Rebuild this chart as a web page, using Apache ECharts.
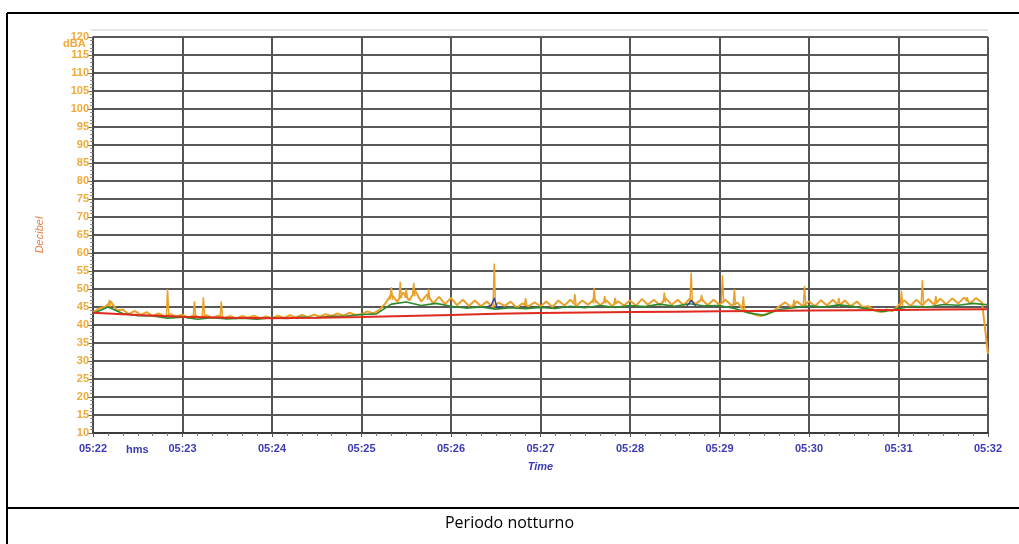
<!DOCTYPE html>
<html><head><meta charset="utf-8">
<script src="https://cdn.jsdelivr.net/npm/echarts@6/dist/echarts.min.js"></script>
<style>html,body{margin:0;padding:0;background:#fff}#c{width:1019px;height:544px}</style>
</head><body><div id="c"></div>
<script>
// time axis: seconds after 05:22:00
const xLabels = ['05:22','05:23','05:24','05:25','05:26','05:27','05:28','05:29','05:30','05:31','05:32'];
const yMin = 10, yMax = 120, yStep = 5;
const caption = 'Periodo notturno';

// orange (instant level) sampled every 4 s from 0 to 600 s
const orangeStep = 4;
const orangeVals = [
 43.5,44.6,45.0,46.5,44.0,44.3,43.0,43.9,42.8,43.6,42.5,43.2,42.4,43.0,42.3,
 42.9,42.0,42.8,41.9,42.7,42.0,42.6,41.9,42.5,41.8,42.5,42.0,42.6,41.9,42.4,
 41.9,42.6,42.0,42.7,42.1,42.8,42.2,42.9,42.3,43.0,42.5,43.2,42.6,43.4,42.8,
 43.0,43.8,43.2,44.2,46.0,48.5,46.5,49.0,46.8,49.5,46.5,48.5,46.0,47.8,45.8,
 47.5,45.5,47.0,45.3,46.8,45.2,46.5,45.0,46.2,45.3,46.5,44.8,46.0,45.2,46.3,
 45.2,46.5,45.0,46.8,45.4,47.0,45.3,46.8,45.6,47.2,45.5,46.9,45.3,46.6,45.4,
 46.8,45.4,47.2,45.6,47.0,45.5,47.4,45.6,47.0,45.5,47.3,45.8,47.2,45.5,47.0,
 45.6,47.0,45.4,46.2,44.3,43.6,42.8,42.5,43.2,43.8,45.2,46.3,45.0,46.5,45.2,
 46.6,45.2,46.9,45.4,47.0,45.3,46.8,45.2,46.5,45.0,45.2,44.0,43.6,44.3,43.8,
 45.5,46.8,45.3,47.0,45.5,47.2,45.6,47.3,45.8,47.4,46.0,47.6,46.0,47.5,46.2,
 32.0
];
// orange spikes: [second, base level, peak level]
const orangeSpikes = [
 [11,45.0,47.0],[50,42.5,50.0],[68,42.3,46.6],[74,42.2,47.7],[86,42.2,46.5],
 [200,47.0,50.5],[206,47.5,52.0],[210,47.5,50.0],[215,48.0,51.7],[225,47.0,50.0],
 [269,45.5,57.1],[290,45.3,47.5],[323,45.8,48.6],[336,46.0,50.3],[343,46.0,48.0],
 [350,45.8,47.5],[383,46.2,49.0],[401,46.3,54.6],[408,46.5,48.4],[422,46.2,53.8],
 [430,45.5,50.0],[436,44.5,48.0],[470,45.2,47.0],[477,45.3,50.9],[500,45.7,47.5],
 [542,45.2,49.5],[556,45.6,52.4],[565,46.0,48.0],[586,46.6,47.7]
];
// green sampled every 10 s
const greenStep = 10;
const greenVals = [
 43.2,45.0,43.2,42.6,42.5,41.9,
 42.2,41.6,42.0,41.7,41.9,41.6,
 42.0,41.8,42.2,42.0,42.4,42.5,
 42.9,43.1,45.8,46.4,45.4,46.0,
 45.2,44.7,45.0,44.4,44.8,44.5,
 44.9,44.6,45.2,44.8,45.4,44.9,
 45.4,45.1,45.8,45.2,45.9,45.3,
 45.4,44.6,43.3,42.7,44.3,44.8,
 45.3,45.0,45.6,45.1,44.4,43.7,
 44.6,45.2,45.0,45.7,45.5,46.0,
 45.6
];
// blue: [second, level]
const bluePts = [[264,45.0],[267,45.5],[269,47.5],[271,44.8],[274,45.0]];
const bluePts2 = [[398,45.2],[401,46.8],[404,45.3]];
// red (slow average) every 30 s
const redStep = 30;
const redVals = [43.4,42.8,42.3,42.0,41.9,42.0,42.2,42.5,42.8,43.1,43.3,43.5,43.6,43.7,43.8,43.9,44.0,44.1,44.2,44.3,44.4];

const orangeData = orangeVals.map((v,i)=>[i*orangeStep, v]);
const spikeData = [];
orangeSpikes.forEach(s=>{ spikeData.push([s[0]-0.8,s[1]],[s[0],s[2]],[s[0]+0.8,s[1]],[s[0]+0.9,'-']); });
const greenData = greenVals.map((v,i)=>[i*greenStep, v]);
const blueData = bluePts.concat([[300,'-']], bluePts2);
const redData = redVals.map((v,i)=>[i*redStep, v]);

const ORANGE = '#E9A12A', GREEN = '#2E8A2E', RED = '#E02A1E', BLUE = '#2A3FA0';
const chart = echarts.init(document.getElementById('c'), null, {renderer:'canvas'});
chart.setOption({
  animation:false,
  backgroundColor:'#fff',
  grid:{left:93, right:31, top:37, bottom:111},
  xAxis:{
    type:'value', min:0, max:600, interval:60,
    axisLine:{show:true, lineStyle:{color:'#333', width:1.5}},
    axisTick:{show:true, length:4, lineStyle:{color:'#555'}},
    minorTick:{show:true, splitNumber:6, length:3, lineStyle:{color:'#777'}},
    axisLabel:{color:'#3B3BB5', fontFamily:'Liberation Sans', fontWeight:'bold', fontSize:11, margin:10,
      formatter:v=>xLabels[Math.round(v/60)]},
    splitLine:{show:true, lineStyle:{color:'#555', width:2}},
    name:'Time', nameLocation:'middle', nameGap:28,
    nameTextStyle:{color:'#3B3BB5', fontStyle:'italic', fontWeight:'bold', fontFamily:'Liberation Sans', fontSize:11}
  },
  yAxis:{
    type:'value', min:yMin, max:yMax, interval:yStep,
    axisLine:{show:true, lineStyle:{color:'#444', width:1.5}},
    axisTick:{show:true, length:5, lineStyle:{color:'#666'}},
    minorTick:{show:true, splitNumber:5, length:3, lineStyle:{color:'#888'}},
    axisLabel:{color:'#F0AA3A', fontFamily:'Liberation Sans', fontWeight:'bold', fontSize:11, margin:4},
    splitLine:{show:true, lineStyle:{color:'#222', width:1.6}},
    name:'Decibel', nameLocation:'middle', nameGap:48, nameRotate:90,
    nameTextStyle:{color:'#EC7E45', fontStyle:'italic', fontFamily:'Liberation Sans', fontSize:11}
  },
  graphic:[
    {type:'line', shape:{x1:7,y1:13,x2:1019,y2:13}, style:{stroke:'#000', lineWidth:2}},
    {type:'line', shape:{x1:7,y1:13,x2:7,y2:544}, style:{stroke:'#000', lineWidth:2}},
    {type:'line', shape:{x1:7,y1:508,x2:1019,y2:508}, style:{stroke:'#000', lineWidth:2}},
    {type:'line', shape:{x1:91,y1:30,x2:988,y2:30}, style:{stroke:'#ccc', lineWidth:1}},
    {type:'text', left:63, top:38, style:{text:'dBA', fill:'#F0AA3A', font:'bold 11px "Liberation Sans"'}},
    {type:'text', left:126, top:444, style:{text:'hms', fill:'#3B3BB5', font:'bold 11px "Liberation Sans"'}},
    {type:'text', left:'center', top:515, style:{text:caption, fill:'#000', font:'16px "Open Sans"'}}
  ],
  series:[
    {type:'line', data:orangeData, showSymbol:false, lineStyle:{color:ORANGE, width:2}, z:2},
    {type:'line', data:spikeData, showSymbol:false, connectNulls:false, lineStyle:{color:ORANGE, width:1.5}, z:2},
    {type:'line', data:greenData, showSymbol:false, lineStyle:{color:GREEN, width:1.6}, z:3},
    {type:'line', data:blueData, showSymbol:false, connectNulls:false, lineStyle:{color:BLUE, width:1.3}, z:4},
    {type:'line', data:redData, showSymbol:false, lineStyle:{color:RED, width:2}, z:5}
  ]
});
</script></body></html>
